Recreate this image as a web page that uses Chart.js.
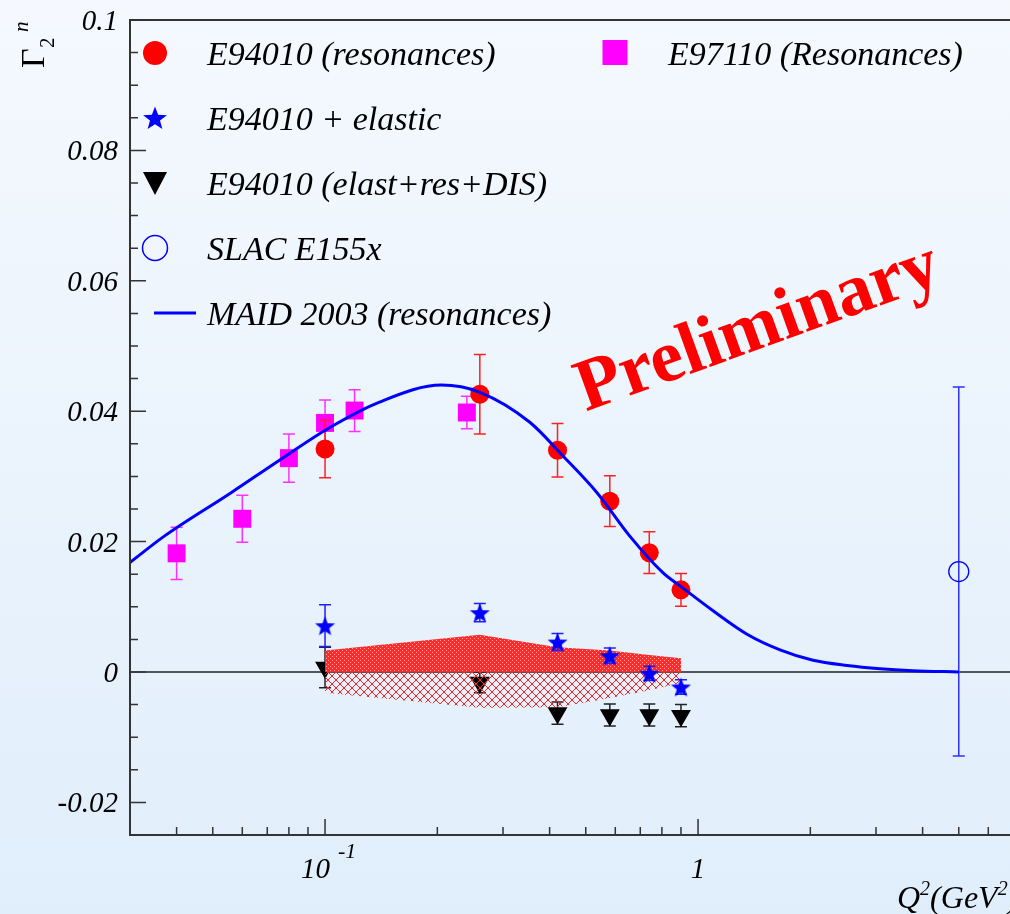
<!DOCTYPE html>
<html>
<head>
<meta charset="utf-8">
<script src="https://cdn.jsdelivr.net/npm/chart.js@4.4.0/dist/chart.umd.min.js"></script>
<style>
html, body { margin: 0; padding: 0; background: #e8f2fc; }
#wrap { width: 1010px; height: 914px; }
</style>
</head>
<body>
<div id="wrap"><canvas id="myChart" width="1010" height="914"></canvas></div>
<script>
// E94010 kinematics (Q^2 in GeV^2)
const q2E94 = [0.1, 0.26, 0.42, 0.58, 0.74, 0.9];
const g2Res = [0.0342, 0.0426, 0.0340, 0.0262, 0.0183, 0.0126];
const g2ResErr = [0.0044, 0.0061, 0.0041, 0.0039, 0.0032, 0.0025];
const g2Elastic = [0.0071, 0.0091, 0.0046, 0.0025, -0.0002, -0.0023];
const g2ElasticErr = [0.0032, 0.0014, 0.0013, 0.0012, 0.0011, 0.0011];
const g2Total = [0.0007, -0.0016, -0.0063, -0.0066, -0.0066, -0.0067];
const g2TotalErr = [0.0031, 0.0016, 0.0017, 0.0017, 0.0017, 0.0017];
// systematic band
const sysUp = [0.0033, 0.0057, 0.0038, 0.0033, 0.0026, 0.0021];
const sysDown = [-0.0032, -0.0055, -0.0054, -0.0040, -0.0028, -0.0017];
// E97110
const q2E97 = [0.04, 0.06, 0.08, 0.1, 0.12, 0.24];
const g2E97 = [0.0182, 0.0235, 0.0328, 0.0382, 0.0401, 0.0398];
const g2E97Err = [0.0040, 0.0036, 0.0037, 0.0035, 0.0032, 0.0025];
// SLAC E155x
const q2Slac = [5.0];
const g2Slac = [0.0154];
const g2SlacErr = [0.0283];
// MAID 2003
const q2Maid = [0.03, 0.037, 0.056, 0.076, 0.103, 0.14, 0.205, 0.26, 0.354, 0.435, 0.536, 0.657, 0.806, 0.9, 1.097, 1.353, 1.659, 2.034, 2.509, 3.075, 3.77, 5.0];
const g2Maid = [0.0168, 0.0208, 0.0275, 0.0326, 0.0375, 0.0414, 0.0440, 0.0429, 0.0383, 0.0331, 0.0275, 0.0208, 0.0152, 0.0131, 0.0094, 0.0058, 0.0034, 0.0018, 0.0010, 0.0005, 0.0002, 0.0];
// axes
const yTickLabels = ['-0.02', '0', '0.02', '0.04', '0.06', '0.08', '0.1'];
const xMajor = [0.1, 1];
const xMinor = [0.04, 0.05, 0.06, 0.07, 0.08, 0.09, 0.2, 0.3, 0.4, 0.5, 0.6, 0.7, 0.8, 0.9, 2, 3, 4, 5, 6];

const F = '"Liberation Serif", "Times New Roman", serif';
const ctx = document.getElementById('myChart').getContext('2d');
const pts = (xs, ys) => xs.map((x, i) => ({ x: x, y: ys[i] }));

// hatch patterns for the systematic band
function crossHatch(size, color) {
    const c = document.createElement('canvas');
    c.width = c.height = size;
    const g = c.getContext('2d');
    g.fillStyle = color;
    for (let i = 0; i < size; i++) {
        g.fillRect(i, i, 1, 1);
        g.fillRect(size - 1 - i, i, 1, 1);
    }
    return ctx.createPattern(c, 'repeat');
}
function denseHatch(color, light) {
    // fine red mesh with pale holes
    const c = document.createElement('canvas');
    c.width = c.height = 4;
    const g = c.getContext('2d');
    g.fillStyle = color;
    g.fillRect(0, 0, 4, 4);
    g.fillStyle = light;
    g.fillRect(0, 0, 1, 1);
    g.fillRect(2, 2, 1, 1);
    return ctx.createPattern(c, 'repeat');
}

function starPath(g, cx, cy, R) {
    const r = R * 0.42;
    g.beginPath();
    for (let k = 0; k < 10; k++) {
        const rr = k % 2 ? r : R;
        const a = -Math.PI / 2 + k * Math.PI / 5;
        g.lineTo(cx + rr * Math.cos(a), cy + rr * Math.sin(a));
    }
    g.closePath();
}
function starImage(R, color) {
    const c = document.createElement('canvas');
    c.width = c.height = Math.ceil(2 * R + 2);
    const g = c.getContext('2d');
    g.fillStyle = color;
    starPath(g, c.width / 2, c.height / 2 + R * 0.1, R);
    g.fill();
    return c;
}

// background gradient
const bgPlugin = {
    id: 'bg',
    beforeDraw(chart) {
        const c = chart.ctx;
        const gr = c.createLinearGradient(0, 0, 0, chart.height);
        gr.addColorStop(0, '#f5f9fe');
        gr.addColorStop(1, '#e0eefb');
        c.save();
        c.fillStyle = gr;
        c.fillRect(0, 0, chart.width, chart.height);
        c.restore();
    },
    beforeDatasetsDraw(chart) {
        // zero line
        const c = chart.ctx, a = chart.chartArea, y0 = chart.scales.y.getPixelForValue(0);
        c.save();
        c.strokeStyle = '#222';
        c.lineWidth = 1.3;
        c.beginPath();
        c.moveTo(a.left, y0);
        c.lineTo(a.right, y0);
        c.stroke();
        c.restore();
    }
};

// vertical error bars drawn right before each dataset's markers
const errorBars = {
    id: 'errorBars',
    beforeDatasetDraw(chart, args) {
        const ds = chart.data.datasets[args.index];
        if (!ds.errors) return;
        const c = chart.ctx, x = chart.scales.x, y = chart.scales.y;
        c.save();
        c.strokeStyle = ds.errColor;
        c.lineWidth = 1.5;
        ds.data.forEach((p, i) => {
            const e = ds.errors[i];
            const px = x.getPixelForValue(p.x);
            const top = y.getPixelForValue(p.y + e), bot = y.getPixelForValue(p.y - e);
            c.beginPath();
            c.moveTo(px, top); c.lineTo(px, bot);
            c.moveTo(px - 6, top); c.lineTo(px + 6, top);
            c.moveTo(px - 6, bot); c.lineTo(px + 6, bot);
            c.stroke();
        });
        c.restore();
    }
};

// frame, ticks, labels, titles, legend
const decor = {
    id: 'decor',
    afterDraw(chart) {
        const c = chart.ctx, a = chart.chartArea, x = chart.scales.x, y = chart.scales.y;
        c.save();
        c.strokeStyle = '#333';
        c.lineWidth = 2;
        c.beginPath();
        c.moveTo(a.right + 5, a.top); c.lineTo(a.left, a.top); c.lineTo(a.left, a.bottom); c.lineTo(a.right + 5, a.bottom);
        c.stroke();

        // y ticks
        c.lineWidth = 1.5;
        c.beginPath();
        for (let k = -5; k <= 20; k++) {
            const py = y.getPixelForValue(k * 0.005);
            const len = k % 4 === 0 ? 16 : 8;
            c.moveTo(a.left, py); c.lineTo(a.left + len, py);
        }
        // x ticks
        xMajor.forEach(v => { const px = x.getPixelForValue(v); c.moveTo(px, a.bottom); c.lineTo(px, a.bottom - 16); });
        xMinor.forEach(v => { const px = x.getPixelForValue(v); c.moveTo(px, a.bottom); c.lineTo(px, a.bottom - 8); });
        c.stroke();

        c.fillStyle = '#000';
        c.font = 'italic 29px ' + F;
        c.textAlign = 'right';
        c.textBaseline = 'alphabetic';
        yTickLabels.forEach(t => {
            c.fillText(t, a.left - 12, y.getPixelForValue(parseFloat(t)) + 10);
        });

        // x labels
        const p01 = x.getPixelForValue(0.1), p1 = x.getPixelForValue(1);
        c.fillText('10', p01 + 5, 878);
        c.textAlign = 'left';
        c.font = 'italic 22px ' + F;
        c.fillText('-1', p01 + 13, 858);
        c.textAlign = 'center';
        c.font = 'italic 29px ' + F;
        c.fillText('1', p1, 878);

        // x title
        c.textAlign = 'left';
        let tx = 897;
        const part = (s, size, dy) => {
            c.font = 'italic ' + size + 'px ' + F;
            c.fillText(s, tx, 908 + dy);
            tx += c.measureText(s).width;
        };
        part('Q', 32, 0); part('2', 20, -13); part('(GeV', 32, 0); part('2', 20, -13); part(')', 32, 0);

        // y title
        c.save();
        c.translate(44, 68);
        c.rotate(-Math.PI / 2);
        c.font = '34px ' + F;
        c.fillText('\u0393', 0, 0);
        c.font = '21px ' + F;
        c.fillText('2', 20, 10);
        c.font = 'italic 21px ' + F;
        c.fillText('n', 36, -16);
        c.restore();

        // legend
        const ds = chart.data.datasets;
        c.font = 'italic 34px ' + F;
        c.textAlign = 'left';
        const rows = [
            { i: 4, mx: 155, my: 53, tx: 207, ty: 65 },
            { i: 0, mx: 155, my: 118, tx: 207, ty: 130 },
            { i: 1, mx: 155, my: 183, tx: 207, ty: 195 },
            { i: 6, mx: 155, my: 248, tx: 207, ty: 260 },
            { i: 7, mx: 175, my: 313, tx: 207, ty: 325 },
            { i: 5, mx: 615, my: 53, tx: 668, ty: 65 }
        ];
        rows.forEach(r => {
            const d = ds[r.i];
            c.fillStyle = d.pointBackgroundColor || d.borderColor;
            c.strokeStyle = d.borderColor;
            if (d.legendMark === 'circle') {
                c.beginPath(); c.arc(r.mx, r.my, 12, 0, Math.PI * 2); c.fill();
            } else if (d.legendMark === 'open') {
                c.lineWidth = 1.5;
                c.beginPath(); c.arc(r.mx, r.my, 12.5, 0, Math.PI * 2); c.stroke();
            } else if (d.legendMark === 'star') {
                starPath(c, r.mx, r.my + 1, 12.5); c.fill();
            } else if (d.legendMark === 'tri') {
                c.beginPath(); c.moveTo(r.mx - 12, r.my - 11); c.lineTo(r.mx + 12, r.my - 11); c.lineTo(r.mx, r.my + 12); c.closePath(); c.fill();
            } else if (d.legendMark === 'square') {
                c.fillRect(r.mx - 12.5, r.my - 13, 25, 25);
            } else if (d.legendMark === 'line') {
                c.lineWidth = 3;
                c.beginPath(); c.moveTo(r.mx - 21, r.my); c.lineTo(r.mx + 21, r.my); c.stroke();
            }
            c.fillStyle = '#000';
            c.fillText(d.label, r.tx, r.ty);
        });

        // Preliminary stamp
        c.save();
        c.translate(765, 347);
        c.rotate(-19.8 * Math.PI / 180);
        c.fillStyle = '#ff0000';
        c.font = 'bold 74px ' + F;
        c.textAlign = 'center';
        c.fillText('Preliminary', 0, 0);
        c.restore();
        c.restore();
    }
};

const datasets = [
    { // 0
        label: 'E94010 + elastic', legendMark: 'star',
        data: pts(q2E94, g2Elastic), errors: g2ElasticErr, errColor: '#2020ff',
        pointStyle: starImage(10.5, '#0000ff'), pointBackgroundColor: '#0000ff', borderColor: '#0000ff',
        order: 6
    },
    { // 1
        label: 'E94010 (elast+res+DIS)', legendMark: 'tri',
        data: pts(q2E94, g2Total), errors: g2TotalErr, errColor: '#222',
        pointStyle: 'triangle', rotation: 180, pointRadius: 11.5, pointBackgroundColor: '#000', borderColor: '#000', pointBorderWidth: 0,
        order: 9
    },
    { // 2 band +
        type: 'line', label: 'sys+', data: pts(q2E94, sysUp),
        fill: 'origin', backgroundColor: denseHatch('#ff2a2a', '#ffa8a8'), borderColor: 'rgba(0,0,0,0)', borderWidth: 0, pointRadius: 0, tension: 0,
        order: 8
    },
    { // 3 band -
        type: 'line', label: 'sys-', data: pts(q2E94, sysDown),
        fill: 'origin', backgroundColor: crossHatch(8, '#ff2020'), borderColor: 'rgba(0,0,0,0)', borderWidth: 0, pointRadius: 0, tension: 0,
        order: 7
    },
    { // 4
        label: 'E94010 (resonances)', legendMark: 'circle',
        data: pts(q2E94, g2Res), errors: g2ResErr, errColor: '#ff2020',
        pointStyle: 'circle', pointRadius: 9.5, pointBackgroundColor: '#ff0000', borderColor: '#ff0000', pointBorderWidth: 0,
        order: 4
    },
    { // 5
        label: 'E97110 (Resonances)', legendMark: 'square',
        data: pts(q2E97, g2E97), errors: g2E97Err, errColor: '#ff30ff',
        pointStyle: 'rect', pointRadius: 12.7, pointBackgroundColor: '#ff00ff', borderColor: '#ff00ff', pointBorderWidth: 0,
        order: 5
    },
    { // 6
        label: 'SLAC E155x', legendMark: 'open',
        data: pts(q2Slac, g2Slac), errors: g2SlacErr, errColor: '#3030ff',
        pointStyle: 'circle', pointRadius: 10, pointBackgroundColor: 'rgba(0,0,0,0)', borderColor: '#0000ff', pointBorderWidth: 1.3,
        order: 3
    },
    { // 7
        type: 'line', label: 'MAID 2003 (resonances)', legendMark: 'line',
        data: pts(q2Maid, g2Maid), borderColor: '#0000ff', borderWidth: 3, pointRadius: 0,
        fill: false, cubicInterpolationMode: 'monotone',
        order: 1
    }
];

const myChart = new Chart(ctx, {
    type: 'scatter',
    data: { datasets: datasets },
    options: {
        responsive: false,
        animation: false,
        layout: { autoPadding: false, padding: { left: 130, top: 20, right: 0, bottom: 79 } },
        scales: {
            x: { type: 'logarithmic', min: 0.03, max: 6.86, display: false },
            y: { type: 'linear', min: -0.025, max: 0.1, display: false }
        },
        plugins: { legend: { display: false }, tooltip: { enabled: false } }
    },
    plugins: [bgPlugin, errorBars, decor]
});
</script>
</body>
</html>
